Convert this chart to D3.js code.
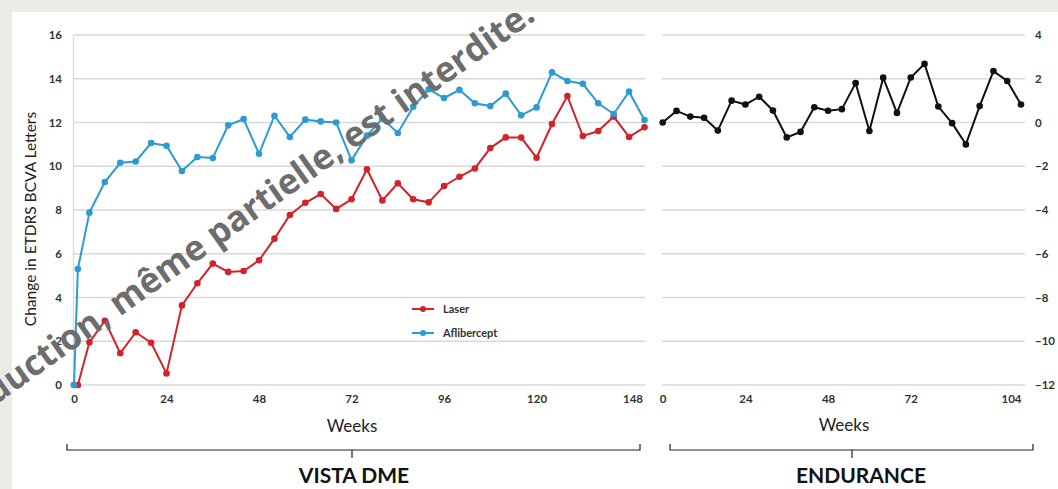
<!DOCTYPE html>
<html>
<head>
<meta charset="utf-8">
<script src="https://cdn.jsdelivr.net/npm/d3@7"></script>
<style>
  html, body { margin: 0; padding: 0; background: #ecebe6; }
  svg { display: block; }
</style>
</head>
<body>
<svg id="chart" width="1058" height="489"></svg>
<script>
// VISTA DME: visit weeks and mean change in BCVA letters per arm
const vistaWeeksAfl = [0, 1, 4, 8, 12, 16, 20, 24, 28, 32, 36, 40, 44, 48, 52, 56, 60, 64, 68, 72, 76, 80, 84, 88, 92, 96, 100, 104, 108, 112, 116, 120, 124, 128, 132, 136, 140, 144, 148];
const aflibercept = [0, 5.3, 7.88, 9.28, 10.16, 10.22, 11.06, 10.94, 9.78, 10.42, 10.38, 11.87, 12.16, 10.57, 12.31, 11.34, 12.13, 12.05, 12.0, 10.27, 11.4, 12.18, 11.52, 12.72, 13.52, 13.12, 13.49, 12.88, 12.75, 13.32, 12.33, 12.69, 14.29, 13.9, 13.77, 12.88, 12.39, 13.41, 12.11];

const vistaWeeksLaser = [0, 1, 4, 8, 12, 16, 20, 24, 28, 32, 36, 40, 44, 48, 52, 56, 60, 64, 68, 72, 76, 80, 84, 88, 92, 96, 100, 104, 108, 112, 116, 120, 124, 128, 132, 136, 140, 144, 148];
const laser = [0, 0.0, 1.95, 2.94, 1.45, 2.41, 1.93, 0.53, 3.64, 4.65, 5.55, 5.17, 5.21, 5.7, 6.69, 7.77, 8.33, 8.73, 8.05, 8.49, 9.86, 8.44, 9.22, 8.49, 8.35, 9.1, 9.52, 9.9, 10.83, 11.32, 11.31, 10.39, 11.93, 13.21, 11.38, 11.61, 12.27, 11.34, 11.78];

// ENDURANCE extension
const enduranceWeeks = [0, 4, 8, 12, 16, 20, 24, 28, 32, 36, 40, 44, 48, 52, 56, 60, 64, 68, 72, 76, 80, 84, 88, 92, 96, 100, 104];
const endurance = [0, 0.53, 0.27, 0.22, -0.37, 1.0, 0.82, 1.18, 0.55, -0.68, -0.43, 0.7, 0.54, 0.61, 1.8, -0.39, 2.05, 0.44, 2.06, 2.68, 0.73, -0.03, -1.0, 0.75, 2.35, 1.9, 0.82];

// Axis ticks
const vistaXTicks = [0, 24, 48, 72, 96, 120, 148];
const vistaYTicks = [0, 2, 4, 6, 8, 10, 12, 14, 16];
const endXTicks = [0, 24, 48, 72, 104];
const endYTicks = [-12, -10, -8, -6, -4, -2, 0, 2, 4];

const legendItems = [
  { name: "Laser", color: "#d2232a" },
  { name: "Aflibercept", color: "#2a9bd3" }
];

const svg = d3.select("#chart");
const FONT = "Lato, 'Open Sans', sans-serif";

// white slide area
svg.append("rect").attr("x", 12).attr("y", 12).attr("width", 1046).attr("height", 477).attr("fill", "#ffffff");

const plotTop = 35, plotBottom = 385;
const xV = d3.scaleLinear().domain([0, 148]).range([74, 644.5]);
const yV = d3.scaleLinear().domain([0, 16]).range([plotBottom, plotTop]);
const xE = d3.scaleLinear().domain([0, 104]).range([662.7, 1021]);
const yE = d3.scaleLinear().domain([-12, 4]).range([plotBottom, plotTop]);

// gridlines
const grid = svg.append("g");
grid.selectAll("line.gv").data(vistaYTicks).join("line")
  .attr("x1", 74).attr("x2", 645)
  .attr("y1", d => yV(d)).attr("y2", d => yV(d))
  .attr("stroke", "#d9d9d9").attr("stroke-width", 1.3);
grid.append("line").attr("x1", 73.5).attr("x2", 73.5).attr("y1", plotTop).attr("y2", plotBottom)
  .attr("stroke", "#d9d9d9").attr("stroke-width", 1.3);
grid.selectAll("line.ge").data(endYTicks).join("line")
  .attr("x1", 662).attr("x2", 1025)
  .attr("y1", d => yE(d)).attr("y2", d => yE(d))
  .attr("stroke", "#d9d9d9").attr("stroke-width", 1.3);

// axes (labels only)
function styleAxis(g) {
  g.select(".domain").remove();
  g.selectAll(".tick line").remove();
  g.selectAll("text").attr("font-family", FONT).attr("font-size", 11.5)
    .attr("font-weight", 700).attr("fill", "#333");
}
svg.append("g").attr("transform", "translate(0,395)")
  .call(d3.axisBottom(xV).tickValues(vistaXTicks).tickFormat(d3.format("d")).tickSize(0).tickPadding(0))
  .call(styleAxis)
  .call(g => g.selectAll(".tick text").filter(d => d === 148).attr("text-anchor", "end").attr("dx", -2));
svg.append("g").attr("transform", "translate(62,0)")
  .call(d3.axisLeft(yV).tickValues(vistaYTicks).tickFormat(d3.format("d")).tickSize(0).tickPadding(0))
  .call(styleAxis);
svg.append("g").attr("transform", "translate(0,395)")
  .call(d3.axisBottom(xE).tickValues(endXTicks).tickFormat(d3.format("d")).tickSize(0).tickPadding(0))
  .call(styleAxis)
  .call(g => g.selectAll(".tick text").filter(d => d === 104).attr("text-anchor", "end"));
svg.append("g").attr("transform", "translate(1035,0)")
  .call(d3.axisRight(yE).tickValues(endYTicks).tickFormat(d3.format("d")).tickSize(0).tickPadding(0))
  .call(styleAxis);

// series
function drawSeries(weeks, vals, xs, ys, color) {
  const pts = weeks.map((w, i) => [w, vals[i]]);
  const line = d3.line().x(d => xs(d[0])).y(d => ys(d[1]));
  svg.append("path").datum(pts).attr("d", line)
    .attr("fill", "none").attr("stroke", color).attr("stroke-width", 2);
  svg.append("g").selectAll("circle").data(pts).join("circle")
    .attr("cx", d => xs(d[0])).attr("cy", d => ys(d[1])).attr("r", 3.3).attr("fill", color);
}
drawSeries(vistaWeeksLaser, laser, xV, yV, legendItems[0].color);
drawSeries(vistaWeeksAfl, aflibercept, xV, yV, legendItems[1].color);
drawSeries(enduranceWeeks, endurance, xE, yE, "#111111");

// legend
const lg = svg.append("g").attr("transform", "translate(412,309)");
legendItems.forEach((it, i) => {
  const g = lg.append("g").attr("transform", `translate(0,${i * 24})`);
  g.append("line").attr("x1", 0).attr("x2", 22).attr("stroke", it.color).attr("stroke-width", 2);
  g.append("circle").attr("cx", 11).attr("r", 3).attr("fill", it.color);
  g.append("text").attr("x", 31).attr("y", 4).text(it.name)
    .attr("font-family", FONT).attr("font-size", 11).attr("font-weight", 700).attr("fill", "#333");
});

// axis titles
svg.append("text").attr("transform", "translate(36,219) rotate(-90)")
  .attr("text-anchor", "middle").attr("font-family", FONT).attr("font-size", 15.5).attr("fill", "#222")
  .text("Change in ETDRS BCVA Letters");
svg.append("text").attr("x", 352).attr("y", 432).attr("text-anchor", "middle")
  .attr("font-family", FONT).attr("font-size", 17).attr("fill", "#222").text("Weeks");
svg.append("text").attr("x", 844).attr("y", 431).attr("text-anchor", "middle")
  .attr("font-family", FONT).attr("font-size", 17).attr("fill", "#222").text("Weeks");

// study brackets
function bracket(x0, x1, xm, label, labelX) {
  const p = d3.path();
  p.moveTo(x0, 444); p.lineTo(x0, 450); p.lineTo(x1, 450); p.lineTo(x1, 444);
  p.moveTo(xm, 450); p.lineTo(xm, 458);
  svg.append("path").attr("d", p.toString()).attr("fill", "none").attr("stroke", "#222").attr("stroke-width", 1.2);
  svg.append("text").attr("x", labelX).attr("y", 483).attr("text-anchor", "middle")
    .attr("font-family", FONT).attr("font-size", 21).attr("font-weight", 700).attr("fill", "#111").text(label);
}
bracket(67, 640, 352, "VISTA DME", 354);
bracket(670, 1033, 852, "ENDURANCE", 861);

// notice overlay
svg.append("text").attr("transform", "translate(537,19) rotate(-35.5)")
  .attr("text-anchor", "end").attr("font-family", "'Open Sans', sans-serif")
  .attr("font-size", 35).attr("font-weight", 700).attr("fill", "#6d6d6d")
  .text("Reproduction, même partielle, est interdite.");
</script>
</body>
</html>
